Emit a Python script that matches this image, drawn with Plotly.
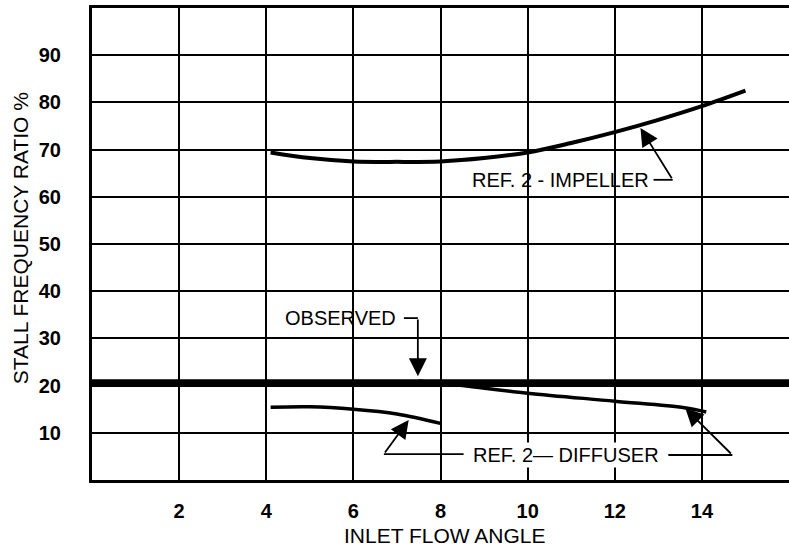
import plotly.graph_objects as go

# ---- data ----
obs_x = [0, 16]
obs_y = [20.6, 20.6]

imp_x = [4.1, 5, 6, 7, 8, 9, 10, 11, 12, 13, 14, 15]
imp_y = [69.4, 68.2, 67.5, 67.4, 67.5, 68.2, 69.4, 71.4, 73.7, 76.3, 79.2, 82.5]

dif1_x = [4.1, 5, 6, 7, 8]
dif1_y = [15.4, 15.5, 15.0, 14.0, 12.0]

dif2_x = [7.5, 8.5, 10, 12, 13.6, 14.1]
dif2_y = [21.0, 20.0, 18.4, 16.7, 15.3, 14.4]

x_ticks = [2, 4, 6, 8, 10, 12, 14]
y_ticks = [10, 20, 30, 40, 50, 60, 70, 80, 90]

FONT = "Liberation Sans, Arial, sans-serif"

fig = go.Figure()
fig.add_trace(go.Scatter(x=obs_x, y=obs_y, mode="lines",
                         line=dict(color="black", width=7), showlegend=False))
fig.add_trace(go.Scatter(x=imp_x, y=imp_y, mode="lines",
                         line=dict(color="black", width=4, shape="spline"), showlegend=False))
fig.add_trace(go.Scatter(x=dif1_x, y=dif1_y, mode="lines",
                         line=dict(color="black", width=3.5, shape="spline"), showlegend=False))
fig.add_trace(go.Scatter(x=dif2_x, y=dif2_y, mode="lines",
                         line=dict(color="black", width=3.5, shape="spline"), showlegend=False))

shapes = [
    # impeller tail
    dict(type="line", xref="x", yref="y", x0=12.89, y0=63.6, x1=13.33, y1=63.6,
         line=dict(color="black", width=1.8)),
    # observed tail
    dict(type="line", xref="x", yref="y", x0=7.16, y0=34.3, x1=7.48, y1=34.3,
         line=dict(color="black", width=1.8)),
    # diffuser tails
    dict(type="line", xref="x", yref="y", x0=6.70, y0=5.5, x1=8.53, y1=5.5,
         line=dict(color="black", width=1.8)),
    dict(type="line", xref="x", yref="y", x0=13.23, y0=5.3, x1=14.70, y1=5.3,
         line=dict(color="black", width=1.8)),
]

arrow = dict(xref="x", yref="y", axref="x", ayref="y", text="", showarrow=True,
             arrowhead=2, arrowsize=2.0, arrowwidth=1.8, arrowcolor="black")
TXT = dict(family=FONT, size=20, color="black")
annotations = [
    dict(x=12.59, y=74.6, ax=13.33, ay=63.6, **arrow),
    dict(x=7.48, y=22.0, ax=7.48, ay=34.3, **arrow),
    dict(x=7.27, y=12.7, ax=6.70, ay=5.5, **arrow),
    dict(x=13.62, y=15.2, ax=14.70, ay=5.3, **arrow),
    dict(x=10.76, y=63.6, xref="x", yref="y", text="REF. 2 - IMPELLER", showarrow=False,
         font=TXT),
    dict(x=5.71, y=34.3, xref="x", yref="y", text="OBSERVED", showarrow=False, font=TXT),
    dict(x=10.87, y=5.3, xref="x", yref="y", text="REF. 2\u2014 DIFFUSER", showarrow=False,
         font=TXT, bgcolor="white"),
    dict(x=(445 - 92) / 697, y=-0.118, xref="paper", yref="paper", text="INLET FLOW ANGLE",
         showarrow=False, xanchor="center", yanchor="middle",
         font=dict(family=FONT, size=21, color="black")),
    dict(x=-0.103, y=(480 - 238) / 472, xref="paper", yref="paper",
         text="STALL FREQUENCY RATIO %", textangle=-90, showarrow=False,
         xanchor="center", yanchor="middle",
         font=dict(family=FONT, size=21, color="black")),
]

fig.update_layout(
    width=789, height=550,
    margin=dict(l=92, r=0, t=8, b=70),
    paper_bgcolor="white", plot_bgcolor="white",
    shapes=shapes, annotations=annotations,
    xaxis=dict(range=[0, 16], tickvals=x_ticks, ticktext=[str(v) for v in x_ticks],
               showgrid=True, gridcolor="black", gridwidth=1.5,
               showline=True, linecolor="black", linewidth=3, mirror=True,
               ticks="", ticklabelstandoff=11, zeroline=False,
               tickfont=dict(family=FONT, size=20, color="black", weight="bold")),
    yaxis=dict(range=[0, 100], tickvals=y_ticks, ticktext=[str(v) for v in y_ticks],
               showgrid=True, gridcolor="black", gridwidth=1.5,
               showline=True, linecolor="black", linewidth=3,
               ticks="", ticklabelstandoff=24, zeroline=False,
               tickfont=dict(family=FONT, size=20, color="black", weight="bold")),
)

fig.write_html("out.html", config={"displayModeBar": False},
               post_script="document.body.style.margin='0';document.body.style.overflow='hidden';")
